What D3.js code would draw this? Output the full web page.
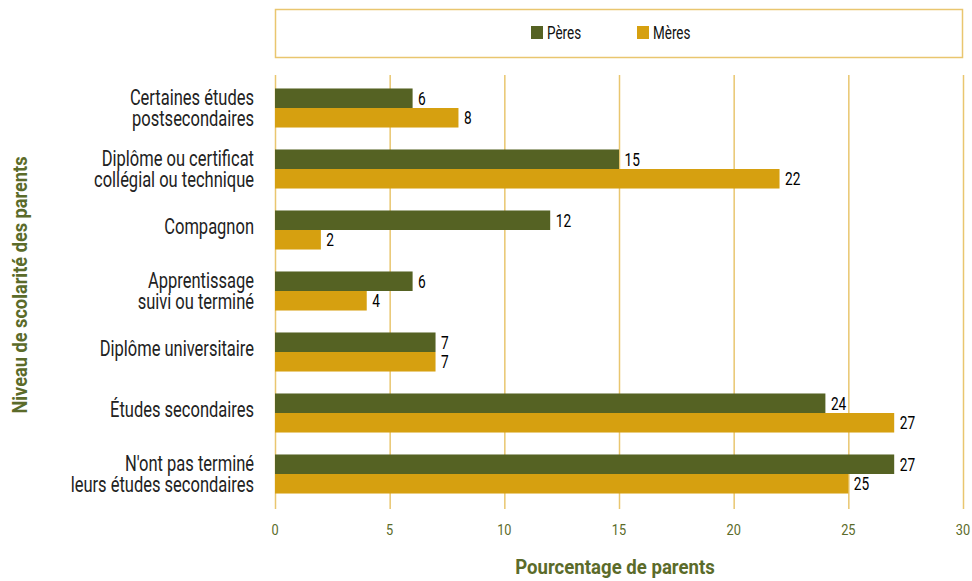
<!DOCTYPE html>
<html>
<head>
<meta charset="utf-8">
<script src="https://cdn.jsdelivr.net/npm/d3@7"></script>
<style>
  html, body { margin: 0; padding: 0; background: #fff; }
  svg { display: block; }
  text { font-family: "Roboto", "Noto Sans", sans-serif; }
</style>
</head>
<body>
<svg id="chart" width="972" height="581"></svg>
<script>
// Education level of parents (each label split over lines)
const categories = [
  ["Certaines études", "postsecondaires"],
  ["Diplôme ou certificat", "collégial ou technique"],
  ["Compagnon"],
  ["Apprentissage", "suivi ou terminé"],
  ["Diplôme universitaire"],
  ["Études secondaires"],
  ["N'ont pas terminé", "leurs études secondaires"]
];
const seriesNames = ["Pères", "Mères"];
const peres = [6, 15, 12, 6, 7, 24, 27];
const meres = [8, 22, 2, 4, 7, 27, 25];
const xTicks = [0, 5, 10, 15, 20, 25, 30];

const colors = { "Pères": "#556223", "Mères": "#d6a010" };
const olive = "#5b6b2a";
const gridColor = "#e9c66f";

const svg = d3.select("#chart");
const plotLeft = 275, plotRight = 963, plotTop = 77.5, plotBottom = 504.5;

const keys = categories.map((c, i) => i);
const x = d3.scaleLinear().domain([0, 30]).range([plotLeft, plotRight]);
const y = d3.scaleBand().domain(keys).range([plotTop, plotBottom]).paddingInner(0.36).paddingOuter(0.18);
const ySub = d3.scaleBand().domain(seriesNames).range([0, y.bandwidth()]);

// Condensed text: a normal face squeezed horizontally around its anchor point
function ctext(parent, px, py, str, o) {
  const g = parent.append("g")
    .attr("transform", `translate(${px},${py})${o.rotate ? ` rotate(${o.rotate})` : ""} scale(${o.sx},1)`);
  const t = g.append("text")
    .attr("x", 0).attr("y", 0)
    .attr("text-anchor", o.anchor || "start")
    .attr("font-size", o.size)
    .attr("font-weight", o.weight || "normal")
    .attr("fill", o.fill || "#111");
  if (Array.isArray(str)) {
    t.selectAll("tspan").data(str).join("tspan")
      .attr("x", 0).attr("dy", (d, k) => k === 0 ? 0 : o.lineHeight).text(d => d);
  } else {
    t.text(str);
  }
  return g;
}

// Legend frame
svg.append("rect")
  .attr("x", 275.5).attr("y", 9.5).attr("width", 687).attr("height", 48)
  .attr("fill", "none").attr("stroke", gridColor).attr("stroke-width", 1.5);

const legend = svg.append("g");
const legendX = [531, 637];
seriesNames.forEach((s, i) => {
  legend.append("rect").attr("x", legendX[i]).attr("y", 26).attr("width", 12).attr("height", 13)
    .attr("fill", colors[s]);
  ctext(legend, legendX[i] + 16, 39, s, { size: 18, sx: 0.75, fill: "#111" });
});

// Vertical gridlines, running down into the tick marks
svg.append("g").selectAll("line").data(xTicks).join("line")
  .attr("x1", d => x(d) + 0.5).attr("x2", d => x(d) + 0.5)
  .attr("y1", 75).attr("y2", 509)
  .attr("stroke", gridColor).attr("stroke-width", 1.5);

// Tick labels
const tickG = svg.append("g");
xTicks.forEach(d => ctext(tickG, x(d), 535, String(d), { size: 15, sx: 0.85, anchor: "middle", fill: olive }));

// Bars
const rows = keys.map(i => ({ i, values: [
  { s: "Pères", v: peres[i] },
  { s: "Mères", v: meres[i] }
]}));

const groups = svg.append("g").selectAll("g").data(rows).join("g")
  .attr("transform", d => `translate(0,${y(d.i)})`);

groups.selectAll("rect").data(d => d.values).join("rect")
  .attr("x", x(0)).attr("y", d => ySub(d.s))
  .attr("width", d => x(d.v) - x(0)).attr("height", ySub.bandwidth())
  .attr("fill", d => colors[d.s]);

// Value labels at the bar ends
groups.each(function(row) {
  const g = d3.select(this);
  row.values.forEach(d => {
    ctext(g, x(d.v) + 5.5, ySub(d.s) + ySub.bandwidth() / 2 + 6.5, String(d.v),
      { size: 19, sx: 0.72, fill: "#000" });
  });
});

// Category labels, right-aligned against the plot
const catG = svg.append("g");
keys.forEach(i => {
  const lines = categories[i];
  const lh = 22;
  const base = lines.length > 1
    ? y(i) + y.bandwidth() / 2 + 7.5 - lh / 2
    : y(i) + y.bandwidth() / 2 + 4;
  ctext(catG, 254, base, lines, { size: 22, sx: 0.75, anchor: "end", fill: "#222", lineHeight: lh });
});

// Axis titles
ctext(svg, 615, 574, "Pourcentage de parents", { size: 21, sx: 0.886, anchor: "middle", weight: "bold", fill: olive });
ctext(svg, 27, 285, "Niveau de scolarité des parents", { size: 20, sx: 0.91, anchor: "middle", weight: "bold", fill: olive, rotate: -90 });
</script>
</body>
</html>
